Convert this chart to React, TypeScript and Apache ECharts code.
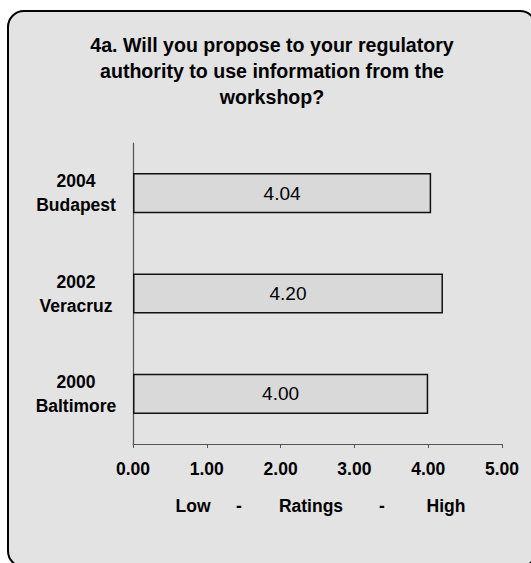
import React, { useEffect, useRef } from "react";
import * as echarts from "echarts";

const categories = ["2000\nBaltimore", "2002\nVeracruz", "2004\nBudapest"];
const ratings = [4.0, 4.2, 4.04];
const xTicks = { min: 0, max: 5, interval: 1 };
const titleText = "4a. Will you propose to your regulatory\nauthority to use information from the\nworkshop?";
const axisWords = ["Low", "-", "Ratings", "-", "High"];
const axisWordX = [193, 239, 311, 382, 446];

const FONT = "'Liberation Sans', Arial, sans-serif";

export default function App() {
  const ref = useRef<HTMLDivElement>(null);
  useEffect(() => {
    if (!ref.current) return;
    const chart = echarts.init(ref.current, null, { renderer: "svg" });
    chart.setOption({
      animation: false,
      backgroundColor: "#ffffff",
      textStyle: { fontFamily: FONT },
      grid: { left: 133, right: 29, top: 143, bottom: 119, containLabel: false },
      xAxis: {
        type: "value",
        min: xTicks.min,
        max: xTicks.max,
        interval: xTicks.interval,
        axisLine: { show: true, lineStyle: { color: "#555", width: 1.2 } },
        axisTick: { show: true, length: 4, lineStyle: { color: "#555" } },
        splitLine: { show: false },
        axisLabel: {
          margin: 16,
          color: "#000",
          fontWeight: "bold",
          fontSize: 17.5,
          fontFamily: FONT,
          formatter: (v: number) => v.toFixed(2),
        },
      },
      yAxis: {
        type: "category",
        data: categories,
        axisLine: { show: true, lineStyle: { color: "#555", width: 1.2 } },
        axisTick: { show: false },
        splitLine: { show: false },
        axisLabel: {
          margin: 57,
          align: "center",
          color: "#000",
          fontWeight: "bold",
          fontSize: 17.5,
          lineHeight: 24,
          fontFamily: FONT,
        },
      },
      series: [
        {
          type: "bar",
          data: ratings,
          barWidth: "40%",
          itemStyle: { color: "#d9d9d9", borderColor: "#111", borderWidth: 1.5 },
          label: {
            show: true,
            position: "inside",
            color: "#000",
            fontSize: 19,
            fontFamily: FONT,
            formatter: (p: any) => Number(p.value).toFixed(2),
          },
        },
      ],
      graphic: [
        {
          type: "rect",
          z: -10,
          silent: true,
          shape: { x: 8, y: 11, width: 528, height: 556, r: 16 },
          style: { fill: "#e3e3e3", stroke: "#000", lineWidth: 2 },
        },
        {
          type: "text",
          x: 272,
          y: 32,
          style: {
            text: titleText,
            textAlign: "center",
            textVerticalAlign: "top",
            fontSize: 19.6,
            fontWeight: "bold",
            fontFamily: FONT,
            lineHeight: 26,
            fill: "#000",
          },
        },
        ...axisWords.map((w, i) => ({
          type: "text",
          x: axisWordX[i],
          y: 506,
          style: {
            text: w,
            textAlign: "center",
            textVerticalAlign: "middle",
            fontSize: 17.5,
            fontWeight: "bold",
            fontFamily: FONT,
            fill: "#000",
          },
        })),
      ],
    });
    return () => chart.dispose();
  }, []);
  return (
    <div
      ref={ref}
      style={{ position: "fixed", left: 0, top: 0, width: 531, height: 563 }}
    />
  );
}
